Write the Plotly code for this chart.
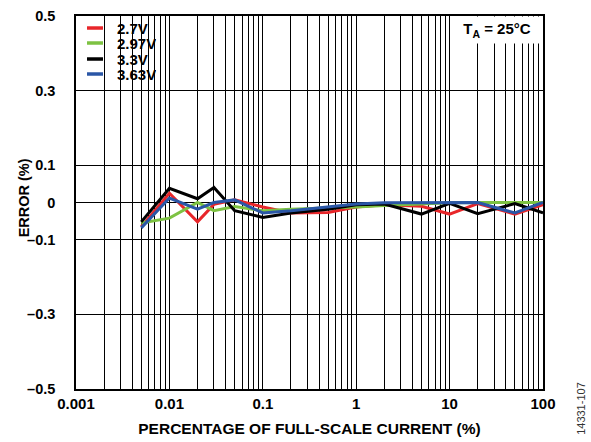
import plotly.graph_objects as go

# Data
x_pct = [0.005, 0.01, 0.02, 0.03, 0.05, 0.1, 0.2, 0.5, 1, 2, 5, 10, 20, 50, 100]
err_27 = [-0.065, 0.025, -0.052, -0.005, 0.007, -0.012, -0.028, -0.027, -0.012, -0.006, -0.010, -0.031, -0.003, -0.031, -0.006]
err_297 = [-0.055, -0.042, 0.000, -0.022, -0.011, -0.022, -0.018, -0.015, -0.012, -0.008, -0.004, -0.001, 0.000, -0.001, 0.000]
err_33 = [-0.052, 0.038, 0.010, 0.040, -0.022, -0.040, -0.028, -0.018, -0.006, -0.004, -0.031, -0.002, -0.030, -0.003, -0.028]
err_363 = [-0.068, 0.012, -0.018, 0.000, 0.007, -0.028, -0.022, -0.011, -0.004, -0.001, 0.000, 0.000, 0.000, -0.028, 0.000]

series_names = ["2.7V", "2.97V", "3.3V", "3.63V"]
series_values = [err_27, err_297, err_33, err_363]
series_colors = ["#e8262a", "#7dc242", "#000000", "#2a56a6"]

y_ticks = [-0.5, -0.3, -0.1, 0, 0.1, 0.3, 0.5]
y_labels = ["–0.5", "–0.3", "–0.1", "0", "0.1", "0.3", "0.5"]
x_major = [0.001, 0.01, 0.1, 1, 10, 100]
x_major_labels = ["0.001", "0.01", "0.1", "1", "10", "100"]

# all log grid positions (labels only on decades)
x_ticks = []
x_labels = []
for d in x_major[:-1]:
    for m in range(1, 10):
        x_ticks.append(round(d * m, 6))
        x_labels.append(x_major_labels[x_major.index(d)] if m == 1 else "")
x_ticks.append(x_major[-1])
x_labels.append(x_major_labels[-1])

FONT = "Liberation Sans, Arial, sans-serif"

fig = go.Figure()
for name, ys, col in zip(series_names, series_values, series_colors):
    fig.add_trace(go.Scatter(x=x_pct, y=ys, mode="lines", name=name,
                             line=dict(color=col, width=3), showlegend=False))

fig.update_layout(
    width=591, height=442,
    margin=dict(l=76, r=48, t=16, b=53),
    paper_bgcolor="white", plot_bgcolor="white",
    font=dict(family=FONT, size=14, color="black", weight="bold"),
    showlegend=False,
)

fig.update_xaxes(
    type="log", range=[-3, 2], automargin=False,
    tickmode="array", tickvals=x_ticks, ticktext=x_labels,
    showgrid=True, gridcolor="black", gridwidth=1,
    showline=True, linecolor="black", linewidth=1.5, mirror=True,
    ticks="", ticklen=0, ticklabelstandoff=0,
    tickfont=dict(size=15, weight="bold"),
    title=dict(text="PERCENTAGE OF FULL-SCALE CURRENT (%)", standoff=12,
               font=dict(size=15.5, weight="bold")),
    zeroline=False,
)
fig.update_yaxes(
    range=[-0.5, 0.5], automargin=False,
    tickmode="array", tickvals=y_ticks, ticktext=y_labels,
    showgrid=True, gridcolor="black", gridwidth=1,
    showline=True, linecolor="black", linewidth=1.5, mirror=True,
    ticks="", ticklen=0, ticklabelstandoff=16,
    tickfont=dict(size=14.5, weight="bold"),
    zeroline=False,
)

# y-axis title
fig.add_annotation(text="ERROR (%)", xref="paper", yref="paper", x=-0.112, y=0.513,
                   xanchor="center", yanchor="middle", textangle=-90, showarrow=False,
                   font=dict(size=14.5, weight="bold", family=FONT))

# legend box (white background hiding the grid) + entries
fig.add_shape(type="rect", xref="paper", yref="paper", x0=0, x1=0.184, y0=0.812, y1=1,
              fillcolor="white", line=dict(width=0), layer="between")
leg_y = [0.9678, 0.9276, 0.8847, 0.8445]
for name, col, yy in zip(series_names, series_colors, leg_y):
    fig.add_shape(type="line", xref="paper", yref="paper", x0=0.0236, x1=0.0578,
                  y0=yy, y1=yy, line=dict(color=col, width=3.5))
    fig.add_annotation(text=name, xref="paper", yref="paper", x=0.085, y=yy,
                       xanchor="left", yanchor="middle", showarrow=False,
                       height=13, borderpad=0,
                       font=dict(size=15, weight="bold", family=FONT))

fig.add_annotation(
    text="T<sub>A</sub> = 25°C", xref="paper", yref="paper", x=1, y=1,
    xanchor="right", yanchor="top", showarrow=False,
    bgcolor="white", width=86, height=22, borderpad=2,
    font=dict(size=15, weight="bold", family=FONT),
)
fig.add_annotation(
    text="14331-107", xref="paper", yref="paper", x=1.081, y=-0.051,
    xanchor="center", yanchor="middle", textangle=-90, showarrow=False,
    font=dict(size=11, weight="normal", family=FONT, color="#333"),
)

fig.write_html("out.html")
